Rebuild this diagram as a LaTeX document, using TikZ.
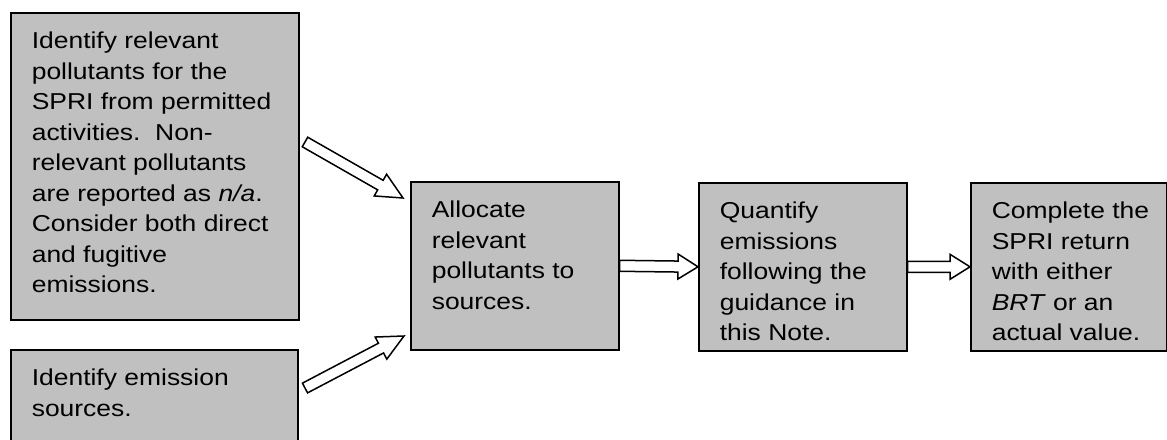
\documentclass[tikz,border=0pt]{standalone}
\usepackage{fontspec}
\setmainfont{Liberation Sans}[FakeStretch=1.15]
\usepackage{xcolor}
\usetikzlibrary{calc}
\definecolor{boxgray}{HTML}{C0C0C0}

\newcommand{\steptext}[3]{\parbox[t][#2][t]{#1}{\fontsize{11.5pt}{15.25pt}\selectfont #3}}
% hollow block arrow: from, to, head length
\newcommand{\hollowarrow}[3]{%
  \coordinate (neck) at ($(#2)!#3!(#1)$);
  \draw[blockarrow] ($(#1)!2.75pt!90:(#2)$) -- ($(neck)!2.75pt!90:(#2)$)
    -- ($(neck)!6.25pt!90:(#2)$) -- (#2) -- ($(neck)!6.25pt!-90:(#2)$)
    -- ($(neck)!2.75pt!-90:(#2)$) -- ($(#1)!2.75pt!-90:(#2)$) -- cycle;}

\begin{document}
\begin{tikzpicture}[x=0.5pt, y=-0.5pt,
    stepbox/.style={draw, fill=boxgray, line width=0.8pt, anchor=north west,
      inner xsep=10.5pt, inner ysep=9.6pt, align=left},
    blockarrow/.style={draw, fill=white, line width=0.75pt, line join=miter}]
\useasboundingbox (0,0) rectangle (1167,439);

\node[stepbox] (pollut) at (10,12) {\steptext{123pt}{134.3pt}{Identify relevant\\
  pollutants for the\\ SPRI from permitted\\ activities.\ \ Non-\\
  relevant pollutants\\ are reported as \textit{n/a}.\\
  Consider both direct\\ and fugitive\\ emissions.}};
\node[stepbox] (sources) at (10,349) {\steptext{122.5pt}{28.8pt}{Identify emission\\ sources.}};
\node[stepbox] (alloc) at (410,181) {\steptext{83pt}{64.8pt}{Allocate\\ relevant\\
  pollutants to\\ sources.}};
\node[stepbox] (quant) at (698,182) {\steptext{83pt}{64.8pt}{Quantify\\ emissions\\
  following the\\ guidance in\\ this Note.}};
\node[stepbox] (spri) at (970,182) {\steptext{77pt}{64.8pt}{\makebox[77pt][l]{Complete the}\\
  SPRI return\\ with either\\ \textit{BRT} or an\\ actual value.}};

\coordinate (p1) at (305,142);
\coordinate (p2) at (403,198);
\coordinate (s1) at (305,388);
\coordinate (s2) at (404,336);

\hollowarrow{p1}{p2}{13pt}
\hollowarrow{s1}{s2}{13pt}
\hollowarrow{alloc.east}{quant.west}{10pt}
\hollowarrow{quant.east}{spri.west}{10pt}
\end{tikzpicture}
\end{document}
